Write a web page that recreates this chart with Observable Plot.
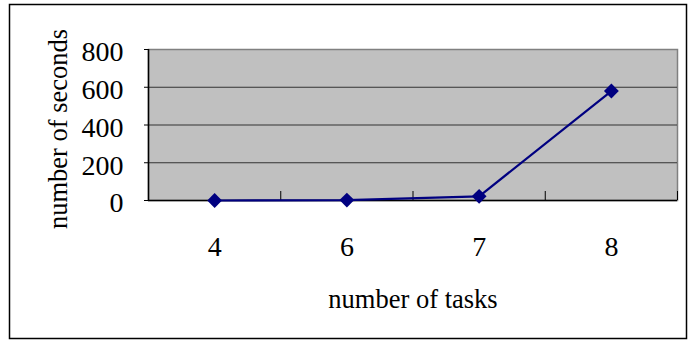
<!DOCTYPE html>
<html>
<head>
<meta charset="utf-8">
<script src="https://cdn.jsdelivr.net/npm/d3@7"></script>
<script src="https://cdn.jsdelivr.net/npm/@observablehq/plot@0.6"></script>
<style>
  html, body { margin: 0; padding: 0; background: white; }
</style>
</head>
<body>
<div id="chart"></div>
<script>
const tasks = ["4", "6", "7", "8"];
const seconds = [0, 2, 22, 580];
const yTicks = [0, 200, 400, 600, 800];
const xLabel = "number of tasks";
const yLabel = "number of seconds";

const data = tasks.map((t, i) => ({i, t, s: seconds[i]}));
const bounds = d3.range(tasks.length + 1).map(i => i - 0.5);
const font = "'Liberation Serif', 'Times New Roman', serif";

const chart = Plot.plot({
  width: 689,
  height: 341,
  marginLeft: 148,
  marginRight: 12,
  marginTop: 49,
  marginBottom: 141,
  style: {fontFamily: font, fontSize: "26px", background: "white", color: "black"},
  x: {domain: [bounds[0], bounds[bounds.length - 1]], axis: null},
  y: {domain: [yTicks[0], yTicks[yTicks.length - 1]], axis: null},
  marks: [
    Plot.frame({fill: "#C0C0C0", stroke: "#808080", strokeWidth: 1.5}),
    Plot.ruleY(yTicks.slice(1, -1), {stroke: "#333", strokeWidth: 1}),
    // y-axis ticks (outward, left)
    Plot.ruleY(yTicks, {x1: bounds[0], x2: bounds[0], insetLeft: -4, stroke: "black", strokeWidth: 1}),
    Plot.ruleX([bounds[0]], {stroke: "black", strokeWidth: 1.5}),
    Plot.ruleY([0], {stroke: "black", strokeWidth: 1.5}),
    // x-axis category boundary ticks (inward, up)
    Plot.ruleX(bounds.slice(1), {y1: yTicks[yTicks.length - 1], y2: 0, insetTop: 142, stroke: "black", strokeWidth: 1}),
    // y tick labels
    Plot.text(yTicks, {x: bounds[0], y: d => d, text: d => String(d), textAnchor: "end", lineAnchor: "middle", dx: -25, dy: 3, fontSize: 28, fill: "black"}),
    // x tick labels
    Plot.text(data, {x: "i", y: 0, text: "t", lineAnchor: "middle", dy: 47, fontSize: 28, fill: "black"}),
    Plot.line(data, {x: "i", y: "s", stroke: "#000080", strokeWidth: 2.2}),
    Plot.dot(data, {x: "i", y: "s", symbol: d3.symbolDiamond2, r: 6.7, fill: "#000080", stroke: "none"}),
    Plot.text([xLabel], {frameAnchor: "bottom", lineAnchor: "middle", dy: 99, fontSize: 26.5, fill: "black"}),
    Plot.text([yLabel], {frameAnchor: "left", textAnchor: "middle", lineAnchor: "middle", dx: -90, dy: 4, rotate: -90, fontSize: 26.5, fill: "black"}),
    Plot.frame({insetLeft: -139, insetTop: -45, insetRight: -9, insetBottom: -138, stroke: "black", strokeWidth: 1.5, fill: "none"})
  ]
});
document.getElementById("chart").appendChild(chart);
</script>
</body>
</html>
